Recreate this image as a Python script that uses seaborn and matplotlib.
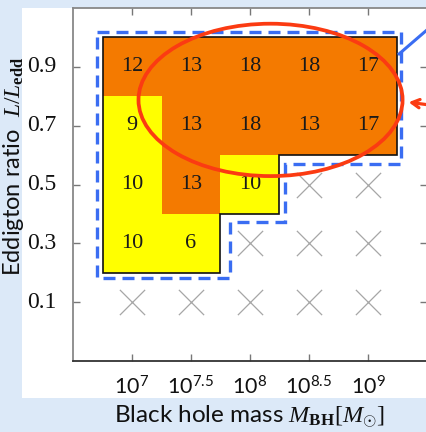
import numpy as np
import matplotlib
matplotlib.use("Agg")
import matplotlib.pyplot as plt
from matplotlib.colors import ListedColormap
from matplotlib.patches import Ellipse, Polygon, Rectangle
import seaborn as sns
import pandas as pd

# ---- data ----
mass_labels = [r"$\mathsf{10^{7}}$", r"$\mathsf{10^{7.5}}$", r"$\mathsf{10^{8}}$",
               r"$\mathsf{10^{8.5}}$", r"$\mathsf{10^{9}}$"]
log_mass = [7.0, 7.5, 8.0, 8.5, 9.0]
ratio_labels = ["0.9", "0.7", "0.5", "0.3", "0.1"]
ratios = [0.9, 0.7, 0.5, 0.3, 0.1]
# number of sources per cell (NaN = no source, drawn as a cross)
counts_09 = [12, 13, 18, 18, 17]
counts_07 = [9, 13, 18, 13, 17]
counts_05 = [10, 13, 10, np.nan, np.nan]
counts_03 = [10, 6, np.nan, np.nan, np.nan]
counts_01 = [np.nan, np.nan, np.nan, np.nan, np.nan]
# cell class: 0 = yellow, 1 = orange
class_09 = [1, 1, 1, 1, 1]
class_07 = [0, 1, 1, 1, 1]
class_05 = [0, 1, 0, np.nan, np.nan]
class_03 = [0, 0, np.nan, np.nan, np.nan]
class_01 = [np.nan, np.nan, np.nan, np.nan, np.nan]

counts = np.array([counts_09, counts_07, counts_05, counts_03, counts_01], dtype=float)
classes = np.array([class_09, class_07, class_05, class_03, class_01], dtype=float)

plt.rcParams["mathtext.fontset"] = "custom"
plt.rcParams["mathtext.rm"] = "Liberation Serif"
plt.rcParams["mathtext.it"] = "Liberation Serif:italic"
plt.rcParams["mathtext.bf"] = "Liberation Serif:bold"
plt.rcParams["mathtext.sf"] = "Lato"

W, H = 426, 432
fig = plt.figure(figsize=(W / 100, H / 100), dpi=100, facecolor="#dce9f8")
fig.patches.append(Rectangle((22 / W, (H - 398) / H), 1.0, (398 - 8) / H,
                             transform=fig.transFigure, facecolor="white",
                             edgecolor="none", zorder=-10))

ax = fig.add_axes([73 / W, (H - 361) / H, 354 / W, 353 / H])
ax.set_facecolor("white")

df = pd.DataFrame(classes, index=ratio_labels, columns=log_mass)
sns.heatmap(df, ax=ax, cmap=ListedColormap(["#ffff00", "#f47a00"]), vmin=0, vmax=1,
            cbar=False, annot=counts, fmt=".0f",
            annot_kws=dict(fontfamily="Liberation Serif", fontsize=16, color="#1a1a1a"))

# helpers: data (log mass, ratio) -> heatmap cell coordinates
def cx(m):
    return (m - 6.75) / 0.5

def cy(r):
    return (1.0 - r) / 0.2

# crosses for empty cells
ex, ey = [], []
for j, r in enumerate(ratios):
    for i, m in enumerate(log_mass):
        if np.isnan(counts[j, i]):
            ex.append(cx(m))
            ey.append(cy(r))
sns.scatterplot(x=ex, y=ey, ax=ax, marker="x", s=330, color="#a6a6a6",
                linewidth=0.9, zorder=3, legend=False)

# black outline of the filled region
outline = [(6.75, 1.0), (9.25, 1.0), (9.25, 0.6), (8.25, 0.6), (8.25, 0.4),
           (7.75, 0.4), (7.75, 0.2), (6.75, 0.2)]
ax.add_patch(Polygon([(cx(a), cy(b)) for a, b in outline], closed=True,
                     fill=False, edgecolor="#111111", lw=1.2, zorder=4))

# blue dashed region
dashed = [(6.705, 1.02), (9.28, 1.02), (9.28, 0.57), (8.30, 0.57), (8.30, 0.372),
          (7.834, 0.372), (7.834, 0.181), (6.705, 0.181)]
ax.add_patch(Polygon([(cx(a), cy(b)) for a, b in dashed], closed=True, fill=False,
                     edgecolor="#3a6df2", lw=2.4, linestyle=(0, (3.6, 2.1)),
                     zorder=5, clip_on=False))
# blue callout line
ax.plot([cx(9.264), cx(9.6)], [cy(0.944), cy(1.06)], color="#3a6df2", lw=2.2,
        clip_on=False, zorder=5)

# red ellipse
ax.add_patch(Ellipse((cx(8.174), cy(0.7876)), 2.238 / 0.5, 0.518 / 0.2, fill=False,
                     edgecolor="#fb3b12", lw=2.7, zorder=6, clip_on=False))
# red arrow
ax.annotate("", xy=(cx(9.321), cy(0.781)), xytext=(cx(9.62), cy(0.765)),
            arrowprops=dict(arrowstyle="->,head_length=0.55,head_width=0.3",
                            color="#fb3b12", lw=2.3),
            annotation_clip=False, zorder=6)

ax.set_xlim(-0.5, 5.5)
ax.set_ylim(5.5, -0.5)
ax.set_xticks([cx(m) for m in log_mass])
ax.set_xticklabels(mass_labels, fontsize=15.5, color="#111111", rotation=0)
ax.set_yticks([cy(r) for r in ratios])
ax.set_yticklabels(ratio_labels, fontfamily="Liberation Serif", fontsize=17,
                   color="#111111", rotation=0)
ax.tick_params(axis="both", direction="in", length=5, width=1, color="#777777",
               top=True, right=True, labeltop=False, labelright=False)
ax.tick_params(axis="x", pad=10)
ax.tick_params(axis="y", pad=12)
ax.set_xlabel("")
ax.set_ylabel("")
for side in ["left", "top", "right"]:
    ax.spines[side].set_visible(True)
    ax.spines[side].set_color("#888888")
    ax.spines[side].set_linewidth(1.3)
ax.spines["bottom"].set_visible(True)
ax.spines["bottom"].set_color("#333333")
ax.spines["bottom"].set_linewidth(1.3)

fig.text(249 / W, (H - 417) / H, r"Black hole mass $M_{\mathbf{BH}}[M_{\odot}]$",
         ha="center", va="center", fontfamily="Lato", fontsize=17.5, color="#111111")
fig.text(14 / W, (H - 166) / H, r"Eddigton ratio  $L/L_{\mathbf{edd}}$",
         ha="center", va="center", rotation=90, fontfamily="Lato", fontsize=17,
         color="#111111")

fig.savefig("out.png", dpi=100, facecolor=fig.get_facecolor())
